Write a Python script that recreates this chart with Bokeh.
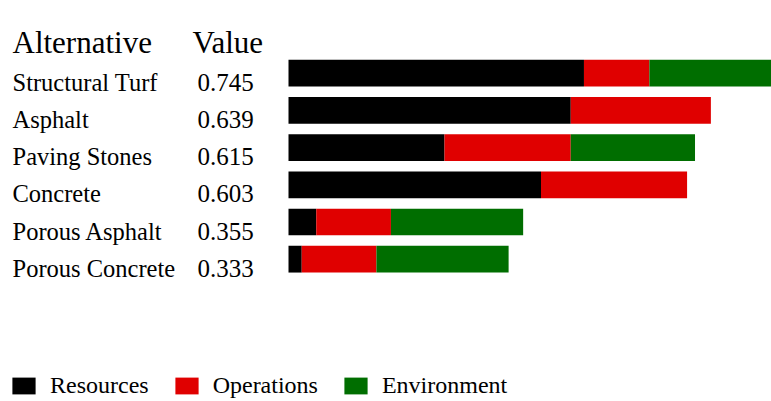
from bokeh.plotting import figure
from bokeh.models import Range1d, ColumnDataSource, Legend, LegendItem
from bokeh.core.properties import value
from bokeh.embed import file_html
from bokeh.resources import INLINE

# ---- data ----
alternatives = ["Structural Turf", "Asphalt", "Paving Stones", "Concrete",
                "Porous Asphalt", "Porous Concrete"]
scores = [0.745, 0.639, 0.615, 0.603, 0.355, 0.333]
resources = [0.447, 0.427, 0.236, 0.382, 0.042, 0.020]
operations = [0.099, 0.212, 0.191, 0.221, 0.113, 0.113]
environment = [0.199, 0.000, 0.188, 0.000, 0.200, 0.200]
criteria = ["Resources", "Operations", "Environment"]
headers = ["Alternative", "Value"]

# ---- layout / style ----
W, H = 771, 401
PX_PER_UNIT = 661.0      # pixels per score unit
X0 = 288.0               # pixel position of score 0
ROW0 = 72.7              # pixel centre of first row (from top)
PITCH = 37.2             # row pitch in pixels
colors = ["#000000", "#e00000", "#006e00"]
FONT = value("Liberation Serif")

def xpx(px):
    return (px - X0) / PX_PER_UNIT

def ypx(px):
    return (px - ROW0) / PITCH

src = ColumnDataSource(dict(
    row=list(range(len(alternatives))),
    label_y=[i + 9.0 / PITCH for i in range(len(alternatives))],
    name=alternatives,
    score=["%.3f" % s for s in scores],
    Resources=resources,
    Operations=operations,
    Environment=environment,
))

p = figure(width=W, height=H, output_backend="svg", toolbar_location=None,
           x_range=Range1d(xpx(0), xpx(W)),
           y_range=Range1d(ypx(H), ypx(0)),
           x_axis_location=None, y_axis_location=None,
           min_border=0, outline_line_color=None)
p.grid.visible = False

renderers = p.hbar_stack(criteria, y="row", height=26.7 / PITCH, color=colors,
                         line_color=None, source=src)

# row labels
p.text(x=xpx(12), y="label_y", text="name", source=src, text_font=FONT,
       text_font_size="24.5px", text_baseline="alphabetic", text_align="left",
       text_color="#000000")
p.text(x=xpx(197), y="label_y", text="score", source=src, text_font=FONT,
       text_font_size="25px", text_baseline="alphabetic", text_align="left",
       text_color="#000000")

# headers
hdr = ColumnDataSource(dict(x=[xpx(12), xpx(192)], y=[ypx(41.7)] * 2,
                            text=headers))
p.text(x="x", y="y", text="text", source=hdr, text_font=FONT,
       text_font_size="31px", text_baseline="alphabetic", text_align="left",
       text_color="#000000")

legend = Legend(items=[LegendItem(label=c, renderers=[r]) for c, r in zip(criteria, renderers)],
                location=(9, 2), orientation="horizontal", padding=0, margin=0,
                spacing=23, label_standoff=12, glyph_width=29, glyph_height=21,
                label_text_font="Liberation Serif", label_text_font_size="24px",
                label_text_color="#000000",
                border_line_color=None, background_fill_alpha=0)
p.add_layout(legend)

open("out.html", "w").write(file_html(p, INLINE))
